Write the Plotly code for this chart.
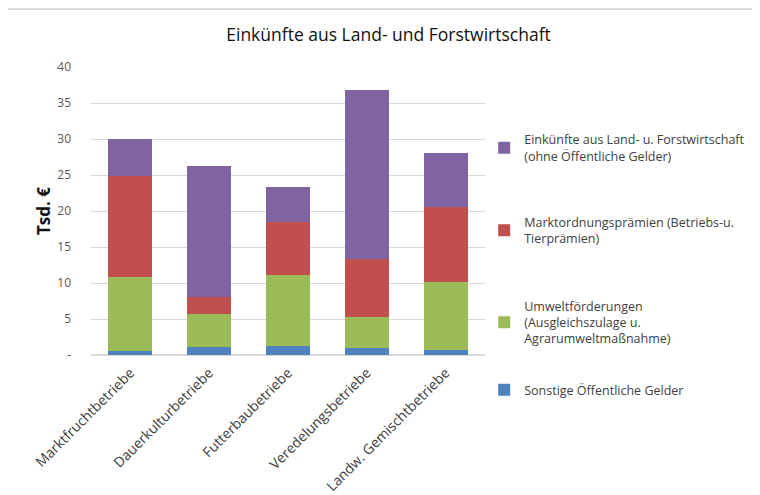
import plotly.graph_objects as go

# Betriebsformen (x categories)
categories = [
    "Marktfruchtbetriebe",
    "Dauerkulturbetriebe",
    "Futterbaubetriebe",
    "Veredelungsbetriebe",
    "Landw. Gemischtbetriebe",
]

# Stacked segments, Tsd. €
sonstige = [0.55, 1.15, 1.3, 1.0, 0.7]
umwelt = [10.35, 4.6, 9.85, 4.3, 9.4]
marktordnung = [14.0, 2.35, 7.35, 8.1, 10.4]
einkuenfte = [5.1, 18.2, 4.9, 23.4, 7.6]

y_tickvals = [0, 5, 10, 15, 20, 25, 30, 35, 40]
y_ticktext = ["-", "5", "10", "15", "20", "25", "30", "35", "40"]

names = [
    "Sonstige Öffentliche Gelder",
    "Umweltförderungen<br>(Ausgleichszulage u.<br>Agrarumweltmaßnahme)",
    "Marktordnungsprämien (Betriebs-u.<br>Tierprämien)",
    "Einkünfte aus Land- u. Forstwirtschaft<br>(ohne Öffentliche Gelder)",
]
series = [sonstige, umwelt, marktordnung, einkuenfte]
colors = ["#4F81BD", "#9BBB59", "#C0504D", "#8064A2"]
legends = ["legend4", "legend3", "legend2", "legend"]

FONT = "Open Sans, sans-serif"

fig = go.Figure()
for vals, name, col, lg in zip(series, names, colors, legends):
    fig.add_trace(go.Bar(
        x=categories, y=vals, name=name,
        marker=dict(color=col, line=dict(width=0)),
        legend=lg, showlegend=True,
    ))

# one legend box per entry, so the entries can sit where the original has them
leg_common = dict(x=0.998, xanchor="left", yanchor="top",
                  font=dict(family=FONT, size=12.5, color="#404040"),
                  bgcolor="rgba(0,0,0,0)", itemwidth=30)

fig.update_layout(
    barmode="stack",
    bargap=0.44,
    width=752,
    height=487,
    showlegend=True,
    paper_bgcolor="white",
    plot_bgcolor="white",
    margin=dict(l=83, r=275, t=59, b=139.5, autoexpand=False),
    title=dict(
        text="Einkünfte aus Land- und Forstwirtschaft",
        x=0.506, xanchor="center", y=0.9446, yanchor="middle",
        font=dict(family=FONT, size=17.5, color="#111111"),
    ),
    xaxis=dict(
        tickangle=-45,
        tickfont=dict(family=FONT, size=14, color="#404040"),
        showline=False,
        ticks="",
        ticklabelstandoff=6,
    ),
    yaxis=dict(
        range=[0, 40],
        tickvals=y_tickvals,
        ticktext=y_ticktext,
        tickfont=dict(family=FONT, size=12, color="#595959"),
        gridcolor="#D9D9D9",
        zerolinecolor="#D9D9D9",
        ticks="",
        ticklabelstandoff=19,
        title=dict(text="<b>Tsd. €</b>", standoff=2,
                   font=dict(family=FONT, size=17, color="#111111")),
    ),
    legend=dict(y=0.799, **leg_common),
    legend2=dict(y=0.512, **leg_common),
    legend3=dict(y=0.221, **leg_common),
    legend4=dict(y=-0.070, **leg_common),
    shapes=[
        dict(type="line", xref="paper", yref="paper",
             x0=-0.2107, x1=1.698, y0=1.2017, y1=1.2017,
             line=dict(color="#D9D9D9", width=2)),
    ],
)

fig.write_html("out.html")
